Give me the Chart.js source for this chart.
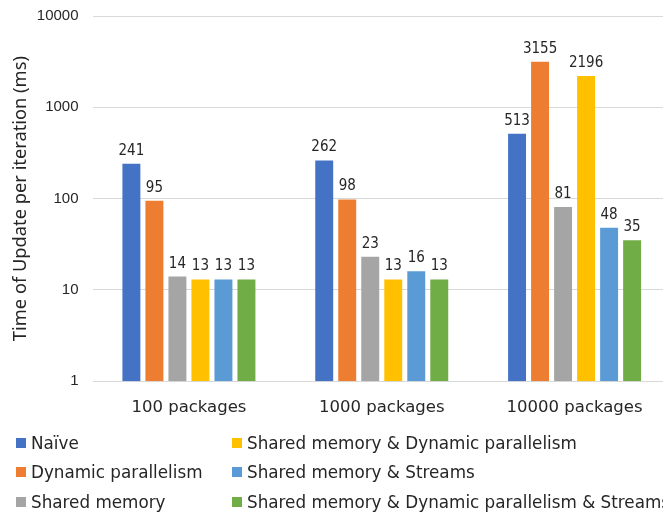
<!DOCTYPE html>
<html>
<head>
<meta charset="utf-8">
<script src="https://cdn.jsdelivr.net/npm/chart.js@4.4.1/dist/chart.umd.min.js"></script>
<style>
  html, body { margin: 0; padding: 0; background: #fff; overflow: hidden; }
  #wrap { position: relative; width: 663px; height: 517px; overflow: hidden; }
  #chart { position: absolute; left: 0; top: 0; }
  .lg { position: absolute; font-family: "DejaVu Sans", sans-serif; font-size: 16.8px; color: #262626; white-space: nowrap; line-height: 20px; }
  .lg i { position: absolute; left: 0; top: 5px; width: 10px; height: 10px; }
  .lg span { position: absolute; left: 15px; top: 0; }
</style>
</head>
<body>
<div id="wrap">
  <canvas id="chart" width="671" height="517"></canvas>
</div>
<script>
// Categories and series (milliseconds per update iteration)
const categories = ["100 packages", "1000 packages", "10000 packages"];
const seriesNames = [
  "Naïve",
  "Dynamic parallelism",
  "Shared memory",
  "Shared memory & Dynamic parallelism",
  "Shared memory & Streams",
  "Shared memory & Dynamic parallelism & Streams"
];
const naive = [241, 262, 513];
const dynamicParallelism = [95, 98, 3155];
const sharedMemory = [14, 23, 81];
const sharedDynamic = [13, 13, 2196];
const sharedStreams = [13, 16, 48];
const sharedDynamicStreams = [13, 13, 35];
const yTicks = [1, 10, 100, 1000, 10000];

const colors = ["#4472C4", "#ED7D31", "#A5A5A5", "#FFC000", "#5B9BD5", "#70AD47"];
const seriesValues = [naive, dynamicParallelism, sharedMemory, sharedDynamic, sharedStreams, sharedDynamicStreams];

const datasets = seriesNames.map((name, i) => ({
  label: name,
  data: seriesValues[i],
  backgroundColor: colors[i],
  borderWidth: 0,
  categoryPercentage: 0.716,
  barPercentage: 0.78
}));

// Value labels above each bar
const valueLabels = {
  id: "valueLabels",
  afterDatasetsDraw(chart) {
    const ctx = chart.ctx;
    ctx.save();
    ctx.font = '15px "DejaVu Sans Condensed", "DejaVu Sans", sans-serif';
    ctx.fillStyle = "#262626";
    ctx.textAlign = "center";
    ctx.textBaseline = "alphabetic";
    chart.data.datasets.forEach((ds, di) => {
      chart.getDatasetMeta(di).data.forEach((bar, j) => {
        ctx.fillText(String(ds.data[j]), bar.x, bar.y - 9);
      });
    });
    ctx.restore();
  }
};

new Chart(document.getElementById("chart"), {
  type: "bar",
  data: { labels: categories, datasets },
  options: {
    responsive: false,
    animation: false,
    layout: { padding: { top: 16, right: 0, bottom: 82, left: 0 } },
    plugins: { legend: { display: false }, tooltip: { enabled: false } },
    scales: {
      x: {
        grid: { display: false, drawTicks: false },
        border: { display: false },
        ticks: {
          padding: 17,
          color: "#262626",
          font: { family: '"DejaVu Sans", sans-serif', size: 16.5 }
        }
      },
      y: {
        type: "logarithmic",
        min: 1,
        max: 10000,
        afterBuildTicks(scale) { scale.ticks = yTicks.map(v => ({ value: v })); },
        afterFit(scale) {
          scale.width = 92.5;
          scale.paddingTop = 0;
          scale.paddingBottom = 0;
        },
        grid: { color: "#D9D9D9", lineWidth: 1, drawTicks: false },
        border: { display: false },
        ticks: {
          padding: 14,
          color: "#262626",
          font: { family: '"Liberation Sans", Arial, sans-serif', size: 15 },
          callback: (v) => String(v)
        },
        title: {
          display: true,
          text: "Time of Update per iteration (ms)",
          color: "#262626",
          font: { family: '"Noto Sans", "Open Sans", sans-serif', size: 18.3 },
          padding: { top: 10, bottom: 0 }
        }
      }
    }
  },
  plugins: [valueLabels]
});

// Two-column legend below the plot
const wrap = document.getElementById("wrap");
const legendCols = [16, 232];
const legendRows = [433, 462, 492];
seriesNames.forEach((name, i) => {
  const el = document.createElement("div");
  el.className = "lg";
  el.style.left = legendCols[Math.floor(i / 3)] + "px";
  el.style.top = legendRows[i % 3] + "px";
  const sw = document.createElement("i");
  sw.style.background = colors[i];
  const tx = document.createElement("span");
  tx.textContent = name;
  el.appendChild(sw);
  el.appendChild(tx);
  wrap.appendChild(el);
});
</script>
</body>
</html>
